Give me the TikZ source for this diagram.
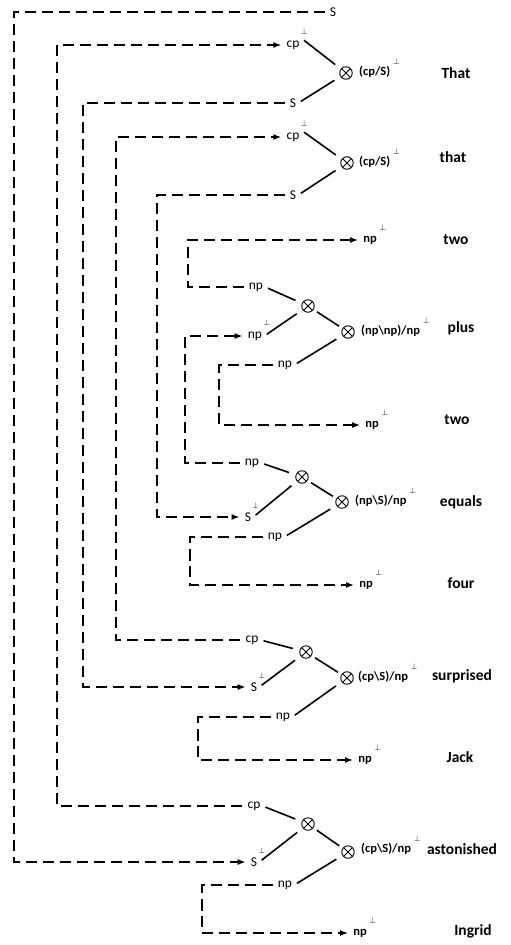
\documentclass[tikz,border=0pt]{standalone}
\usepackage{fontspec}
\setmainfont{Carlito}
\usetikzlibrary{arrows.meta}
\newcommand\pp{\rlap{\smash{\raisebox{11.5pt}{\kern3pt\fontsize{8.5}{8.5}\selectfont$\perp$}}}}
\newcommand\ppr{\rlap{\smash{\raisebox{12.5pt}{\kern1.5pt\fontsize{8.5}{8.5}\selectfont$\perp$}}}}
\newcommand\ppw{\rlap{\smash{\raisebox{12.5pt}{\kern1.5pt\fontsize{8.5}{8.5}\selectfont$\perp$}}}}
\tikzset{
  lab/.style={font=\fontsize{13.5}{15}\selectfont, inner sep=2pt},
  labb/.style={font=\fontsize{12.5}{14}\selectfont\bfseries, inner sep=2pt},
  form/.style={font=\fontsize{12.5}{14}\selectfont\bfseries, inner sep=0pt, anchor=west},
  word/.style={font=\fontsize{15.5}{17}\selectfont\bfseries, inner sep=0pt},
  tensor/.style={circle, draw, line width=0.9pt, minimum size=12.5pt, inner sep=0pt,
    path picture={\draw[line width=0.9pt]
      (path picture bounding box.north west) -- (path picture bounding box.south east)
      (path picture bounding box.north east) -- (path picture bounding box.south west);}},
  link/.style={line width=1.6pt, shorten <=3pt, shorten >=7pt},
  tlink/.style={line width=1.6pt, shorten <=4pt, shorten >=4pt},
  dline/.style={line width=1.5pt, dash pattern=on 11pt off 6pt, shorten <=3pt, shorten >=3pt},
  darr/.style={dline, -{Latex[length=8pt,width=6pt]}},
}
\begin{document}
\begin{tikzpicture}[x=1pt,y=-1pt]
\useasboundingbox (0,0) rectangle (511,945);
% labels
\node[lab] (s0) at (333,12) {S};
\node[lab] (cp1) at (293,45) {cp\ppr};
\node[lab] (s1) at (293,103) {S};
\node[lab] (cp2) at (293,137) {cp\ppr};
\node[lab] (s2) at (293,195) {S};
\node[labb] (np1) at (370,240) {np\pp};
\node[lab] (np2) at (256,287) {np};
\node[lab] (np3) at (255,336) {np\ppr};
\node[lab] (np4) at (285,365) {np};
\node[labb] (np5) at (372,425) {np\pp};
\node[lab] (np6) at (252,463) {np};
\node[lab] (s3) at (248,517) {S\ppw};
\node[lab] (np7) at (275,537) {np};
\node[labb] (np8) at (366,585) {np\pp};
\node[lab] (cp3) at (252,640) {cp};
\node[lab] (s4) at (254,687) {S\ppw};
\node[lab] (np9) at (283,717) {np};
\node[labb] (np10) at (365,760) {np\pp};
\node[lab] (cp4) at (254,806) {cp};
\node[lab] (s5) at (254,862) {S\ppw};
\node[lab] (np11) at (285,885) {np};
\node[labb] (np12) at (360,933) {np\pp};
% tensors
\node[tensor] (x1) at (346,73) {};
\node[tensor] (x2) at (347,163) {};
\node[tensor] (xi3) at (308,306) {};
\node[tensor] (xo3) at (348,332) {};
\node[tensor] (xi4) at (302,477) {};
\node[tensor] (xo4) at (342,502) {};
\node[tensor] (xi5) at (306,652) {};
\node[tensor] (xo5) at (347,678) {};
\node[tensor] (xi6) at (308,824) {};
\node[tensor] (xo6) at (348,852) {};
% formulas
\node[form] (f1) at (359,72) {(cp/S)\pp};
\node[form] (f2) at (359,162) {(cp/S)\pp};
\node[form] (f3) at (361,331) {(np\textbackslash np)/np\pp};
\node[form] (f4) at (355,501) {(np\textbackslash S)/np\pp};
\node[form] (f5) at (358,677) {(cp\textbackslash S)/np\pp};
\node[form] (f6) at (361,849) {(cp\textbackslash S)/np\pp};
% words
\node[word] (w1) at (456,73) {That};
\node[word] (w2) at (453,157) {that};
\node[word] (w3) at (456,240) {two};
\node[word] (w4) at (461,328) {plus};
\node[word] (w5) at (457,420) {two};
\node[word] (w6) at (461,502) {equals};
\node[word] (w7) at (461,583) {four};
\node[word] (w8) at (462,676) {surprised};
\node[word] (w9) at (460,757) {Jack};
\node[word] (w10) at (462,849) {astonished};
\node[word] (w11) at (473,931) {Ingrid};
% corner coordinates
\coordinate (k1) at (14,400);
\coordinate (k2) at (57,400);
\coordinate (k3) at (83,400);
\coordinate (k4) at (116,400);
\coordinate (k5) at (157,400);
\coordinate (k6) at (188,260);
\coordinate (k7) at (185,400);
\coordinate (k8) at (219,400);
\coordinate (k9) at (190,560);
\coordinate (k10) at (198,740);
\coordinate (k11) at (202,910);
% dashed connectors
\draw[darr] (s0.west) -| (k1) |- (s5.west);
\draw[darr] (cp4.west) -| (k2) |- (cp1.west);
\draw[darr] (s1.west) -| (k3) |- (s4.west);
\draw[darr] (cp3.west) -| (k4) |- (cp2.west);
\draw[darr] (s2.west) -| (k5) |- (s3.west);
\draw[darr] (np2.west) -| (k6) |- (np1.west);
\draw[darr] (np6.west) -| (k7) |- (np3.west);
\draw[darr] (np4.west) -| (k8) |- (np5.west);
\draw[darr] (np7.west) -| (k9) |- (np8.west);
\draw[darr] (np9.west) -| (k10) |- (np10.west);
\draw[darr] (np11.west) -| (k11) |- (np12.west);
% solid links
\draw[link] (cp1.north east) -- (x1);
\draw[link] (s1.east) -- (x1);
\draw[link] (cp2.north east) -- (x2);
\draw[link] (s2.east) -- (x2);
\draw[link] (np2.east) -- (xi3);
\draw[link] (np3.east) -- (xi3);
\draw[tlink] (xi3) -- (xo3);
\draw[link] (np4.east) -- (xo3);
\draw[link] (np6.east) -- (xi4);
\draw[link] (s3.east) -- (xi4);
\draw[tlink] (xi4) -- (xo4);
\draw[link] (np7.east) -- (xo4);
\draw[link] (cp3.east) -- (xi5);
\draw[link] (s4.east) -- (xi5);
\draw[tlink] (xi5) -- (xo5);
\draw[link] (np9.east) -- (xo5);
\draw[link] (cp4.east) -- (xi6);
\draw[link] (s5.east) -- (xi6);
\draw[tlink] (xi6) -- (xo6);
\draw[link] (np11.east) -- (xo6);
\end{tikzpicture}
\end{document}
